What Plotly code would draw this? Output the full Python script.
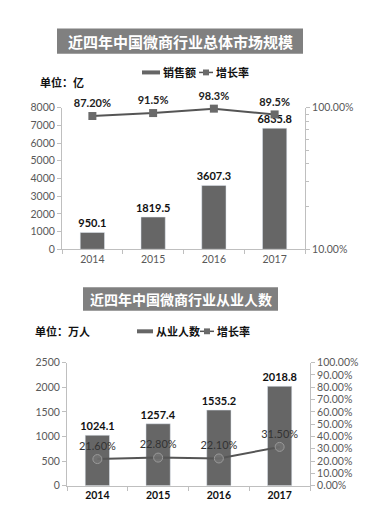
import plotly.graph_objects as go

# ---- data ----
years = ["2014", "2015", "2016", "2017"]
sales = [950.1, 1819.5, 3607.3, 6835.8]
sales_growth = [0.872, 0.915, 0.983, 0.895]
sales_growth_labels = ["87.20%", "91.5%", "98.3%", "89.5%"]

staff = [1024.1, 1257.4, 1535.2, 2018.8]
staff_growth = [0.216, 0.228, 0.221, 0.315]
staff_growth_labels = ["21.60%", "22.80%", "22.10%", "31.50%"]

title1 = "近四年中国微商行业总体市场规模"
title2 = "近四年中国微商行业从业人数"
W, H = 380, 520

def px(x):
    return x / W

def py(y):
    return 1 - y / H

NUM = "Lato, Liberation Sans, sans-serif"
CJK = "Noto Sans CJK SC"
BAR = "#666666"
LINE = "#555555"
TICK = "#595959"

fig = go.Figure()

# chart 1
fig.add_trace(go.Bar(x=years, y=sales, xaxis="x", yaxis="y", marker_color=BAR,
                     text=[f"{v}" for v in sales], textposition="outside", constraintext="none",
                     textfont=dict(family=NUM, size=11, color="#111111", weight="bold"),
                     cliponaxis=False, showlegend=False))
fig.add_trace(go.Scatter(x=years, y=sales_growth, xaxis="x", yaxis="y2",
                         mode="lines+markers+text", line=dict(color=LINE, width=2),
                         marker=dict(symbol="square", size=8, color="#6a6a6a"),
                         text=sales_growth_labels, textposition="top center",
                         textfont=dict(family=NUM, size=11, color="#222222", weight="bold"),
                         cliponaxis=False, showlegend=False))

# chart 2
fig.add_trace(go.Bar(x=years, y=staff, xaxis="x2", yaxis="y3", marker_color=BAR,
                     text=[f"{v}" for v in staff], textposition="outside", constraintext="none",
                     textfont=dict(family=NUM, size=11, color="#111111", weight="bold"),
                     cliponaxis=False, showlegend=False))
fig.add_trace(go.Scatter(x=years, y=staff_growth, xaxis="x2", yaxis="y4",
                         mode="lines+markers+text", line=dict(color=LINE, width=2),
                         marker=dict(symbol="circle", size=9, color="rgba(120,120,120,0.6)",
                                     line=dict(color="#9a9a9a", width=1)),
                         text=staff_growth_labels, textposition="top center",
                         textfont=dict(family=NUM, size=11, color="#333333"),
                         cliponaxis=False, showlegend=False))

axis_common = dict(showgrid=False, zeroline=False, showline=True, linecolor="#bfbfbf",
                   linewidth=1, ticks="outside", tickcolor="#bfbfbf", ticklen=4)

fig.update_layout(
    width=W, height=H, margin=dict(l=0, r=0, t=0, b=0),
    paper_bgcolor="white", plot_bgcolor="white",
    bargap=0.6,
    xaxis=dict(domain=[px(62), px(305)], anchor="y", tickson="boundaries",
               tickfont=dict(family=NUM, size=10.5, color=TICK), **axis_common),
    yaxis=dict(domain=[py(249), py(104)], anchor="x", range=[0, 8000], dtick=1000,
               tickfont=dict(family=NUM, size=10.5, color=TICK), **axis_common),
    yaxis2=dict(domain=[py(249), py(104)], anchor="x", overlaying="y", side="right",
                type="log", range=[-1, 0], tickvals=[0.1, 1], ticktext=["10.00%", "100.00%"],
                minor=dict(tickvals=[0.2, 0.3, 0.4, 0.5, 0.6, 0.7, 0.8, 0.9], ticks="outside",
                           ticklen=3, tickcolor="#bfbfbf"),
                tickfont=dict(family=NUM, size=10.5, color=TICK), **axis_common),
    xaxis2=dict(domain=[px(67), px(310)], anchor="y3", tickson="boundaries",
                tickfont=dict(family=NUM, size=10.5, color="#111111", weight="bold"), **axis_common),
    yaxis3=dict(domain=[py(491), py(365)], anchor="x2", range=[0, 2500], dtick=500,
                tickfont=dict(family=NUM, size=10.5, color=TICK), **axis_common),
    yaxis4=dict(domain=[py(491), py(365)], anchor="x2", overlaying="y3", side="right",
                range=[0, 1], dtick=0.1, tickformat=".2%",
                tickfont=dict(family=NUM, size=10.5, color=TICK), **axis_common),
)

shapes = []
annotations = []

# title boxes
shapes.append(dict(type="rect", xref="paper", yref="paper", x0=px(57), x1=px(303),
                   y0=py(49), y1=py(23), fillcolor="#808080", line=dict(width=0), layer="above"))
annotations.append(dict(xref="paper", yref="paper", x=px(180), y=py(36), text=title1, showarrow=False,
                        font=dict(family=CJK, size=15, color="white", weight="bold"),
                        xanchor="center", yanchor="middle"))
shapes.append(dict(type="rect", xref="paper", yref="paper", x0=px(83), x1=px(278),
                   y0=py(312), y1=py(288), fillcolor="#808080", line=dict(width=0), layer="above"))
annotations.append(dict(xref="paper", yref="paper", x=px(180.5), y=py(300), text=title2, showarrow=False,
                        font=dict(family=CJK, size=14, color="white", weight="bold"),
                        xanchor="center", yanchor="middle"))

# unit labels
annotations.append(dict(xref="paper", yref="paper", x=px(38), y=py(78), text="单位：亿", showarrow=False,
                        font=dict(family=CJK, size=11, color="#111111", weight="bold"),
                        xanchor="left", yanchor="middle"))
annotations.append(dict(xref="paper", yref="paper", x=px(33), y=py(333), text="单位：万人", showarrow=False,
                        font=dict(family=CJK, size=11, color="#111111", weight="bold"),
                        xanchor="left", yanchor="middle"))

# legends (manual)
def legend(y, bar_x0, bar_x1, bar_label, line_x0, line_x1, line_label):
    shapes.append(dict(type="line", xref="paper", yref="paper", x0=px(bar_x0), x1=px(bar_x1),
                       y0=py(y), y1=py(y), line=dict(color=BAR, width=4)))
    annotations.append(dict(xref="paper", yref="paper", x=px(bar_x1 + 1), y=py(y), text=bar_label,
                            showarrow=False, xanchor="left", yanchor="middle",
                            font=dict(family=CJK, size=11, color="#111111", weight="bold")))
    shapes.append(dict(type="line", xref="paper", yref="paper", x0=px(line_x0), x1=px(line_x1),
                       y0=py(y), y1=py(y), line=dict(color=LINE, width=1.5)))
    mx = (line_x0 + line_x1) / 2
    shapes.append(dict(type="rect", xref="paper", yref="paper", x0=px(mx - 3), x1=px(mx + 3),
                       y0=py(y + 3), y1=py(y - 3), fillcolor="#6a6a6a", line=dict(width=0)))
    annotations.append(dict(xref="paper", yref="paper", x=px(line_x1 + 1), y=py(y), text=line_label,
                            showarrow=False, xanchor="left", yanchor="middle",
                            font=dict(family=CJK, size=11, color="#111111", weight="bold")))

legend(68, 142, 160, "销售额", 199, 213, "增长率")
legend(333, 137, 153, "从业人数", 200, 214, "增长率")

fig.update_layout(shapes=shapes, annotations=annotations)
fig.write_html("out.html")
